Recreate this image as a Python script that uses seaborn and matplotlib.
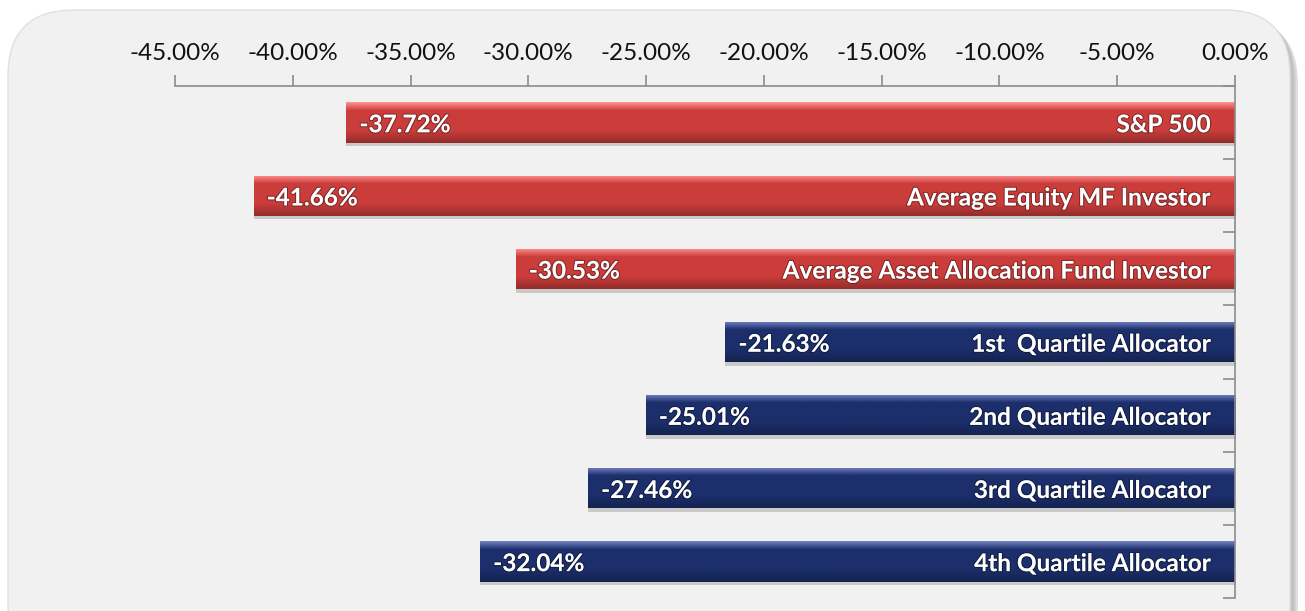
import numpy as np
import pandas as pd
import matplotlib
matplotlib.use("Agg")
import matplotlib.pyplot as plt
from matplotlib.patches import FancyBboxPatch
from matplotlib.colors import LinearSegmentedColormap, to_rgb
import matplotlib.patheffects as pe
import seaborn as sns

categories = ["S&P 500", "Average Equity MF Investor", "Average Asset Allocation Fund Investor",
              "1st  Quartile Allocator", "2nd Quartile Allocator", "3rd Quartile Allocator",
              "4th Quartile Allocator"]
values = [-37.72, -41.66, -30.53, -21.63, -25.01, -27.46, -32.04]
groups = ["index", "index", "index", "alloc", "alloc", "alloc", "alloc"]
group_colors = {"index": "#cb3d3b", "alloc": "#1c2f6c"}
xticks = [-45, -40, -35, -30, -25, -20, -15, -10, -5, 0]

sns.set_theme(style="white")
plt.rcParams["font.family"] = ["Lato", "DejaVu Sans"]

df = pd.DataFrame({"category": categories, "value": values, "group": groups})

W, H = 1305, 611
fig = plt.figure(figsize=(W / 100, H / 100), dpi=100)
fig.patch.set_facecolor("white")

# background panel (pixel coordinates)
bgax = fig.add_axes([0, 0, 1, 1], zorder=-1)
bgax.set_xlim(0, W)
bgax.set_ylim(H, 0)
bgax.axis("off")
for off, col in [(8, "#e0e0e0"), (6, "#d0d0d0"), (4, "#c2c2c2")]:
    bgax.add_patch(FancyBboxPatch((8 + off, 10 + off), 1290 - 8, 660,
                                  boxstyle="round,pad=0,rounding_size=66",
                                  facecolor=col, edgecolor="none"))
bgax.add_patch(FancyBboxPatch((8, 10), 1290 - 8, 660, boxstyle="round,pad=0,rounding_size=66",
                              facecolor="#f1f1f1", edgecolor="#e0e0e0", linewidth=1))

ax = fig.add_axes([175 / W, 1 - 598 / H, (1235 - 175) / W, (598 - 86) / H], zorder=2)
ax.set_facecolor("none")

sns.barplot(data=df, x="value", y="category", hue="group", palette=group_colors,
            orient="h", width=0.55, dodge=False, legend=False, ax=ax, zorder=3)

ax.set_xlim(-45, 0)
ax.set_ylim(len(categories) - 0.5, -0.5)

# gradient overlay on each bar
def grad_cmap(base):
    r, g, b = to_rgb(base)
    light = tuple(min(1, c + 0.33) for c in (r, g, b))
    dark = tuple(c * 0.72 for c in (r, g, b))
    return LinearSegmentedColormap.from_list("g", [(0, light), (0.2, (r, g, b)), (0.7, (r, g, b)), (1, dark)])

grad = np.linspace(0, 1, 64).reshape(-1, 1)
for patch, grp in zip(ax.patches, groups):
    bb = patch.get_bbox()
    x0, x1 = bb.x0, bb.x1
    y0, y1 = min(bb.y0, bb.y1), max(bb.y0, bb.y1)
    ax.fill_between([x0 + 0.1, x1], y1, y1 + 0.05, color="#9a9a9a", alpha=0.45, zorder=2, linewidth=0)
    im = ax.imshow(grad, extent=(x0, x1, y1, y0), aspect="auto", cmap=grad_cmap(group_colors[grp]),
                   zorder=4, interpolation="bilinear")
    im.set_clip_path(patch)
    patch.set_edgecolor("none")

ax.set_ylim(len(categories) - 0.5, -0.5)
ax.set_xlim(-45, 0)

# labels inside bars
fx = [pe.withStroke(linewidth=1.6, foreground=(0, 0, 0, 0.35))]
for i, (cat, v) in enumerate(zip(categories, values)):
    ax.text(v + 0.55, i + 0.03, f"{v:.2f}%", color="white", fontweight="bold", fontsize=17.5,
            va="center", ha="left", zorder=5, path_effects=fx)
    ax.text(-1.05, i + 0.03, cat, color="white", fontweight="bold", fontsize=17.5,
            va="center", ha="right", zorder=5, path_effects=fx)

# axes styling
ax.xaxis.tick_top()
ax.set_xticks(xticks)
ax.set_xticklabels([f"{t:.2f}%" for t in xticks], fontsize=17.5, color="#111111")
ax.tick_params(axis="x", which="major", direction="out", length=8, width=1.2, color="#8c8c8c",
               pad=8, top=True, bottom=False)
ax.set_xlabel("")
ax.set_ylabel("")
ax.set_yticks([])
ax.set_yticks(np.arange(-0.5, len(categories) + 0.5, 1), minor=True)
ax.yaxis.tick_right()
ax.tick_params(axis="y", which="minor", direction="in", length=9, width=1.2, color="#8c8c8c",
               right=True, left=False, labelright=False)
ax.tick_params(axis="y", which="major", right=False, left=False, labelright=False, labelleft=False)
for s in ["left", "bottom"]:
    ax.spines[s].set_visible(False)
for s in ["top", "right"]:
    ax.spines[s].set_visible(True)
    ax.spines[s].set_color("#8c8c8c")
    ax.spines[s].set_linewidth(1.2)
    ax.spines[s].set_zorder(6)

fig.savefig("out.png", dpi=100)
